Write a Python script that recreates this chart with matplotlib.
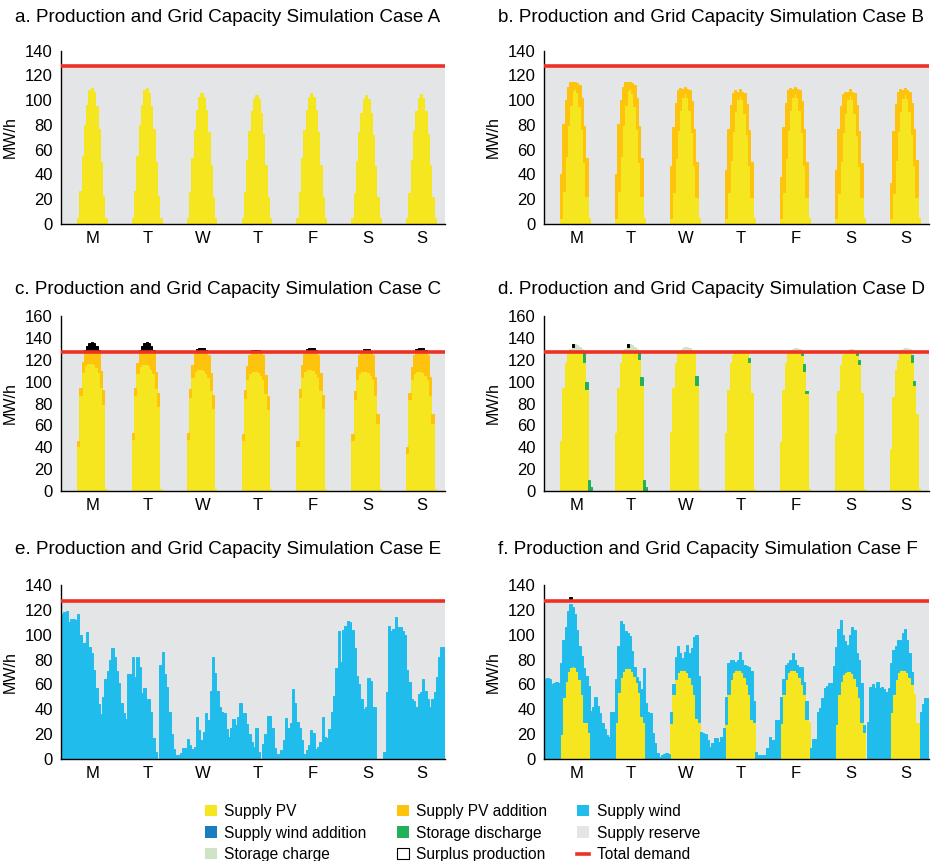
import numpy as np
import matplotlib.pyplot as plt
from matplotlib.patches import Patch
from matplotlib.lines import Line2D

plt.rcParams['font.family'] = ['Liberation Sans', 'DejaVu Sans']

HOURS = 168
DAYS = ['M', 'T', 'W', 'T', 'F', 'S', 'S']
DEMAND = 127.5
PV_START = 7  # first daylight hour of each day

# colours
C_PV = '#F5E61F'
C_PV_ADD = '#FEC30D'
C_WIND = '#20BDEC'
C_WIND_ADD = '#1A7DC0'
C_DISCH = '#23B05B'
C_RESERVE = '#E4E5E7'
C_CHARGE = '#CFE4C4'
C_SURPLUS = '#000000'
C_DEMAND = '#EE3124'

# --- case A / B : PV (hours 7..19 of each day)
PV_AB = [
    [5, 27, 55, 80, 96, 108, 110, 107, 95, 77, 50, 23, 5],
    [5, 27, 55, 80, 96, 108, 110, 106, 95, 77, 50, 23, 5],
    [5, 26, 53, 76, 92, 103, 106, 103, 92, 74, 48, 22, 5],
    [5, 26, 52, 75, 91, 101, 104, 101, 90, 73, 48, 22, 5],
    [5, 26, 53, 76, 92, 103, 106, 103, 92, 74, 48, 22, 5],
    [5, 25, 51, 74, 90, 101, 104, 101, 90, 72, 47, 22, 5],
    [5, 25, 52, 75, 91, 102, 105, 102, 91, 73, 48, 22, 5],
]
PV_ADD_B = [
    [35, 54, 45, 31, 19, 7, 5, 7, 17, 25, 29, 30, 0],
    [35, 54, 45, 31, 19, 7, 5, 8, 17, 25, 29, 30, 0],
    [42, 52, 45, 32, 18, 6, 5, 6, 16, 25, 29, 28, 0],
    [39, 51, 44, 31, 17, 6, 5, 6, 16, 24, 28, 28, 0],
    [33, 52, 45, 32, 18, 6, 5, 6, 16, 25, 29, 28, 0],
    [39, 52, 44, 31, 17, 6, 5, 6, 16, 24, 28, 27, 0],
    [28, 50, 45, 32, 18, 6, 5, 6, 16, 25, 29, 30, 0],
]

# --- case C
PV_C = [
    [41, 88, 109, 115, 117, 117, 117, 116, 113, 109, 95, 80, 2],
    [48, 88, 108, 114, 116, 116, 116, 115, 112, 108, 94, 78, 2],
    [48, 86, 104, 110, 112, 112, 112, 111, 108, 104, 92, 76, 2],
    [47, 85, 102, 108, 110, 110, 110, 109, 106, 102, 90, 75, 2],
    [41, 86, 104, 110, 112, 112, 112, 111, 108, 104, 92, 76, 2],
    [47, 84, 102, 108, 110, 110, 110, 109, 106, 102, 88, 62, 2],
    [35, 84, 102, 108, 110, 110, 110, 109, 106, 102, 88, 62, 2],
]
PV_ADD_C = [
    [5, 6, 9, 11, 10.5, 10.5, 10.5, 11.5, 14.5, 17, 15, 12, 0],
    [5, 6, 9, 12, 11.5, 11.5, 11.5, 12.5, 15.5, 18, 15, 12, 0],
    [5, 7, 11, 15, 15.5, 15.5, 15.5, 16.5, 19.5, 20, 16, 12, 0],
    [5, 7, 12, 16, 17.5, 17.5, 17.5, 18.5, 21.5, 22, 16, 12, 0],
    [5, 7, 11, 15, 15.5, 15.5, 15.5, 16.5, 19.5, 20, 16, 12, 0],
    [5, 7, 11, 16, 17.5, 17.5, 17.5, 18.5, 21.5, 22, 16, 8, 0],
    [5, 6, 11, 16, 17.5, 17.5, 17.5, 18.5, 21.5, 22, 16, 8, 0],
]
SURPLUS_C = [
    [0, 0, 0, 1, 5, 8, 8.5, 8, 5, 1, 0, 0, 0],
    [0, 0, 0, 1, 5, 8, 8.5, 8, 5, 1, 0, 0, 0],
    [0, 0, 0, 0, 2, 3.5, 3.5, 3, 1, 0, 0, 0, 0],
    [0, 0, 0, 0, 1, 1.5, 1.5, 1, 0, 0, 0, 0, 0],
    [0, 0, 0, 0, 2, 3, 3, 3, 1, 0, 0, 0, 0],
    [0, 0, 0, 0, 0, 2, 2.5, 2, 0, 0, 0, 0, 0],
    [0, 0, 0, 0, 2, 3, 3, 3, 1, 0, 0, 0, 0],
]

# --- case D (hours 7..20)
PV_D = [
    [46, 94, 117, 127.5, 127.5, 127.5, 127.5, 127.5, 127.5, 127.5, 118, 93, 0, 0],
    [53, 94, 117, 127.5, 127.5, 127.5, 127.5, 127.5, 127.5, 127.5, 121, 97, 0, 0],
    [54, 94, 117, 127.5, 127.5, 127.5, 127.5, 127.5, 127.5, 127.5, 127.5, 97, 2, 0],
    [53, 92, 117, 124, 127.5, 127.5, 127.5, 127.5, 127.5, 127.5, 118, 90, 2, 0],
    [45, 92, 117, 126, 127.5, 127.5, 127.5, 127.5, 127.5, 124, 110, 90, 2, 0],
    [52, 91, 115, 124, 127.5, 127.5, 127.5, 127.5, 127.5, 124, 116, 90, 2, 0],
    [38, 86, 111, 120, 127.5, 127.5, 127.5, 127.5, 127.5, 118, 97, 70, 2, 0],
]
DISCH_D = [
    [0, 0, 0, 0, 0, 0, 0, 0, 0, 0, 8, 7, 10, 4],
    [0, 0, 0, 0, 0, 0, 0, 0, 0, 0, 6, 7, 10, 4],
    [0, 0, 0, 0, 0, 0, 0, 0, 0, 0, 0, 8, 0, 0],
    [0, 0, 0, 0, 0, 0, 0, 0, 0, 0, 4, 0, 0, 0],
    [0, 0, 0, 0, 0, 0, 0, 0, 0, 3, 6, 1, 0, 0],
    [0, 0, 0, 0, 0, 0, 0, 0, 0, 3, 4, 0, 0, 0],
    [0, 0, 0, 0, 0, 0, 0, 0, 0, 6, 4, 0, 0, 0],
]
CHARGE_D = [
    [0, 0, 0, 0, 2, 4, 7, 6, 4, 2, 0, 0, 0, 0],
    [0, 0, 0, 0, 2, 4, 7, 6, 4, 2, 0, 0, 0, 0],
    [0, 0, 0, 0, 1, 3, 4, 4, 3, 1, 0, 0, 0, 0],
    [0, 0, 0, 0, 0, 1, 1.5, 1.5, 1, 0, 0, 0, 0, 0],
    [0, 0, 0, 0, 1, 2.5, 3, 3, 2, 0, 0, 0, 0, 0],
    [0, 0, 0, 0, 0, 1, 2, 2, 1, 0, 0, 0, 0, 0],
    [0, 0, 0, 0, 1, 2.5, 3, 3, 2, 0, 0, 0, 0, 0],
]
SURPLUS_D = [
    [0, 0, 0, 0, 0, 2.5, 0, 0, 0, 0, 0, 0, 0, 0],
    [0, 0, 0, 0, 0, 2.5, 0, 0, 0, 0, 0, 0, 0, 0],
    [0] * 14, [0] * 14, [0] * 14, [0] * 14, [0] * 14,
]

# --- case E : wind only, hourly
WIND_E = [
    117, 118, 119, 110, 113, 113, 112, 117, 100, 93, 93, 102, 90, 85, 72, 57, 44, 36, 50, 64, 71, 80, 89, 82,
    71, 61, 45, 37, 32, 68, 68, 82, 66, 82, 74, 53, 57, 48, 48, 38, 17, 6, 0, 76, 86, 68, 58, 38,
    20, 8, 3, 3, 5, 9, 9, 16, 11, 8, 10, 34, 23, 15, 22, 37, 31, 55, 82, 69, 55, 42, 38, 37,
    24, 18, 25, 32, 27, 34, 45, 37, 37, 28, 20, 14, 10, 25, 6, 0, 12, 20, 35, 35, 25, 9, 4, 4,
    7, 15, 33, 25, 29, 56, 45, 30, 25, 15, 4, 7, 11, 23, 21, 8, 10, 14, 34, 18, 17, 24, 38, 51,
    73, 103, 78, 104, 107, 111, 110, 104, 89, 67, 60, 48, 40, 42, 65, 63, 42, 42, 0, 0, 0, 6, 54, 107,
    103, 105, 114, 106, 106, 103, 100, 72, 62, 48, 47, 42, 52, 54, 64, 55, 48, 42, 48, 54, 66, 82, 90, 90,
]

# --- case F : PV (hours 7..19) and top of the PV + wind stack
PV_F = [
    [20, 50, 63, 71, 74, 75, 74, 71, 64, 52, 30, 30, 22],
    [30, 54, 66, 71, 73, 73, 73, 71, 67, 62, 54, 35, 30],
    [29, 52, 64, 70, 72, 72, 72, 70, 66, 60, 52, 33, 30],
    [28, 52, 64, 70, 72, 72, 72, 70, 66, 60, 52, 32, 30],
    [29, 52, 64, 70, 72, 72, 72, 70, 66, 60, 52, 32, 30],
    [28, 52, 63, 68, 70, 71, 71, 69, 65, 59, 50, 30, 22],
    [38, 52, 64, 70, 72, 72, 72, 70, 66, 60, 52, 29, 29],
]
TOP_F = [
    64, 65, 64, 60, 61, 62, 61, 77, 96, 106, 119, 125, 122, 117, 104, 91, 83, 73, 67, 59, 39, 42, 50, 43,
    37, 29, 24, 19, 18, 38, 38, 64, 91, 111, 109, 103, 101, 99, 87, 74, 66, 63, 56, 73, 45, 38, 37, 21,
    13, 5, 2, 3, 4, 5, 4, 38, 60, 82, 91, 85, 81, 86, 92, 85, 89, 98, 100, 67, 22, 21, 20, 15,
    10, 13, 17, 17, 14, 18, 25, 50, 77, 80, 80, 78, 80, 86, 80, 76, 75, 74, 71, 47, 6, 3, 3, 3,
    3, 9, 18, 15, 15, 31, 31, 50, 64, 76, 77, 80, 85, 80, 76, 74, 74, 62, 47, 9, 9, 16, 16, 38,
    41, 49, 57, 59, 61, 61, 75, 90, 105, 112, 100, 95, 92, 100, 106, 104, 85, 80, 61, 27, 0, 30, 58, 60,
    57, 62, 57, 58, 56, 54, 57, 77, 88, 91, 96, 96, 101, 105, 96, 85, 70, 50, 29, 29, 38, 44, 49, 49,
]
SURPLUS_F_HOUR = 11
SURPLUS_F = 3

LEGEND_LABELS = ['Supply PV', 'Supply PV addition', 'Supply wind',
                 'Supply wind addition', 'Storage discharge', 'Supply reserve',
                 'Storage charge', 'Surplus production', 'Total demand']


def spread(day_lists, start=PV_START):
    out = np.zeros(HOURS)
    for d, vals in enumerate(day_lists):
        i0 = d * 24 + start
        out[i0:i0 + len(vals)] = vals
    return out


def stack_bar(ax, hours, vals, bottom, col, z=2):
    keep = vals > 0  # zero-height bars would still draw an edge line
    ax.bar(hours[keep], vals[keep], bottom=bottom[keep], width=1, align='edge',
           color=col, edgecolor=col, linewidth=0.7, zorder=z)


def draw_panel(ax, title, title_y, supply, above, ymax):
    hours = np.arange(HOURS)
    bottom = np.zeros(HOURS)
    for vals, col in supply:
        stack_bar(ax, hours, vals, bottom, col)
        bottom = bottom + vals
    reserve = np.clip(DEMAND - bottom, 0, None)
    stack_bar(ax, hours, reserve, bottom, C_RESERVE, z=1)
    bottom = bottom + reserve
    for vals, col in above:
        stack_bar(ax, hours, vals, bottom, col, z=3)
        bottom = bottom + vals
    ax.axhline(DEMAND, color=C_DEMAND, lw=2.6, zorder=5)

    ax.set_xlim(0, HOURS)
    ax.set_ylim(0, ymax)
    ax.set_yticks(np.arange(0, ymax + 1, 20))
    ax.set_xticks([d * 24 + 14 for d in range(7)])
    ax.set_xticklabels(DAYS)
    ax.tick_params(length=0, labelsize=12)
    ax.tick_params(axis='y', pad=6)
    ax.tick_params(axis='x', pad=5)
    for s in ['top', 'right']:
        ax.spines[s].set_visible(False)
    ax.spines['left'].set_linewidth(1)
    ax.spines['bottom'].set_linewidth(1)
    ax.set_ylabel('MW/h', fontsize=11.5)
    ax.yaxis.set_label_coords(-0.112, 0.5)
    pos = ax.get_position()
    fig.text(pos.x0 - 46 / 935, 1 - title_y / 861, title, fontsize=13.6,
             ha='left', va='center')


fig = plt.figure(figsize=(9.35, 8.61), dpi=100)

boxes = {
    'a': [61 / 935, 637 / 861, 384 / 935, 173.3 / 861],
    'b': [544 / 935, 637 / 861, 385 / 935, 173.3 / 861],
    'c': [61 / 935, 370 / 861, 384 / 935, 175 / 861],
    'd': [544 / 935, 370 / 861, 385 / 935, 175 / 861],
    'e': [61 / 935, 102 / 861, 384 / 935, 174 / 861],
    'f': [544 / 935, 102 / 861, 385 / 935, 174 / 861],
}
title = 'Production and Grid Capacity Simulation Case '

pv_ab = spread(PV_AB)
pv_f = spread(PV_F)
wind_f = np.clip(np.array(TOP_F, dtype=float) - pv_f, 0, None)
surplus_f = np.zeros(HOURS)
surplus_f[SURPLUS_F_HOUR] = SURPLUS_F

draw_panel(fig.add_axes(boxes['a']), 'a. ' + title + 'A', 17,
           [(pv_ab, C_PV)], [], 140)
draw_panel(fig.add_axes(boxes['b']), 'b. ' + title + 'B', 17,
           [(pv_ab, C_PV), (spread(PV_ADD_B), C_PV_ADD)], [], 140)
draw_panel(fig.add_axes(boxes['c']), 'c. ' + title + 'C', 290,
           [(spread(PV_C), C_PV), (spread(PV_ADD_C), C_PV_ADD)],
           [(spread(SURPLUS_C), C_SURPLUS)], 160)
draw_panel(fig.add_axes(boxes['d']), 'd. ' + title + 'D', 290,
           [(spread(PV_D), C_PV), (spread(DISCH_D), C_DISCH)],
           [(spread(CHARGE_D), C_CHARGE), (spread(SURPLUS_D), C_SURPLUS)], 160)
draw_panel(fig.add_axes(boxes['e']), 'e. ' + title + 'E', 549,
           [(np.array(WIND_E, dtype=float), C_WIND)], [], 140)
draw_panel(fig.add_axes(boxes['f']), 'f. ' + title + 'F', 549,
           [(pv_f, C_PV), (wind_f, C_WIND)], [(surplus_f, C_SURPLUS)], 140)

# legend, row-major order in the picture -> column-major for matplotlib
patch_cols = [C_PV, C_PV_ADD, C_WIND, C_WIND_ADD, C_DISCH, C_RESERVE, C_CHARGE]
handles = [Patch(facecolor=c, edgecolor='none') for c in patch_cols]
handles.append(Patch(facecolor='white', edgecolor='black', linewidth=0.8))
handles.append(Line2D([0], [0], color=C_DEMAND, lw=2.6))
order = [0, 3, 6, 1, 4, 7, 2, 5, 8]
fig.legend([handles[i] for i in order], [LEGEND_LABELS[i] for i in order],
           ncol=3, loc='upper left', bbox_to_anchor=(205 / 935, 1 - 804 / 861),
           frameon=False, fontsize=11.2, handlelength=0.75, handleheight=0.75,
           handletextpad=0.5, columnspacing=1.93, labelspacing=0.42,
           borderpad=0, borderaxespad=0)

fig.savefig('out.png', dpi=100)
